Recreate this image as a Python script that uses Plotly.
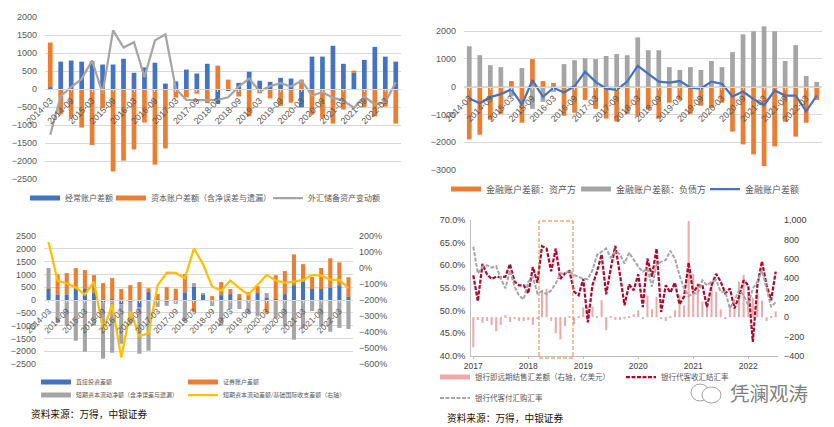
import plotly.graph_objects as go

W, H = 834, 427
TEXT = "#595959"
CJK = "Noto Sans CJK SC"
LATIN = "Liberation Sans"

# quarterly axis shared by three panels
quarters = [f"{y}-{m}" for y in range(2014, 2023) for m in ("03", "06", "09", "12")][:34]
quarter_ticks = quarters[::2]

# top left
current_acct = [40, 760, 790, 760, 770, 680, 680, 840, 450, 600, 730, 150, 210, 540, 430, 700,
                -410, -30, 170, 480, 230, 200, 310, 290, -510, 900, 900, 1200, 700, 450, 810, 1170, 900, 760]
capital_acct = [1250, -700, -800, -1070, -1560, -530, -2290, -1990, -1680, -930, -2100, -1650, -240, -230, -130, -390,
                650, 260, -210, -760, -120, -260, -470, -380, 260, -710, -800, -960, -570, 60, -500, -760, -490, -960]
reserve_chg = [-1270, -200, 50, 280, 790, -130, 1630, 1150, 1300, 330, 1350, 1520, 0, -300, -310, -310,
               -300, -230, 70, 290, -70, 80, 160, 70, 230, -180, -90, -240, -330, -520, -210, -430, -370, 190]

# top right
fin_assets = [-1900, -1730, -1190, -980, 200, -1300, 990, 200, 130, -1050, -940, -480, -800, -1150, -1260, -980,
              -1050, -830, -1150, -580, -480, -980, -690, -770, -580, -1620, -2080, -2440, -2860, -2150, -1260, -1800, -1300, -480]
fin_liabs = [1450, 1130, 770, 700, -350, 670, -800, -550, -190, 810, 950, 1020, 990, 1100, 1170, 1130,
             1770, 1310, 1310, 700, 600, 700, 600, 920, 700, 1240, 1880, 1990, 2170, 1990, 920, 1490, 380, 170]
fin_balance = [-430, -600, -380, -270, -100, -650, 230, -370, -40, -210, 20, 540, 170, -70, -120, 180,
               750, 480, 180, 140, 200, -40, -70, 180, 100, -360, -180, -450, -670, -140, -320, -320, -890, -320]

# bottom left
fdi = [430, 220, 220, 430, 430, 270, -100, 40, -170, -60, -300, 310, 10, -60, 10, 300,
       510, 200, 0, 190, 230, 40, -40, 270, 80, 40, 230, 580, 710, 430, 430, 470, 580, 120]
portfolio = [30, 780, 830, 815, 740, 700, 660, 815, 430, 580, 700, 150, 230, 500, 430, 710,
             -450, 0, 150, 510, 200, 190, 310, 270, -520, 930, 900, 1200, 690, 470, 820, 1160, 890, 770]
short_term = [790, -900, -1000, -1590, -2020, -1000, -2190, -2060, -1540, -900, -1800, -1980, -270, -170, -150, -840,
              150, 40, -230, -1000, -360, -350, -500, -640, 190, -710, -1040, -1550, -1100, -430, -1040, -1240, -1090, -1130]
short_ratio = [163, -80, -95, -122, -167, -85, -390, -229, -559, -270, -425, -408, -109, -29, -31, -64,
               122, 23, -115, -142, -78, -126, -167, -105, -43, -78, -93, -85, -74, -43, -48, -72, -74, -126]

# bottom right, monthly
months = [f"{y}-{m:02d}" for y in range(2017, 2023) for m in range(1, 13)][:67]
fx_spread = [-310, -30, -60, -40, -80, -145, -80, 20, -50, -10, -40, -40, -30, -80, -10, 280, 290, -40, -165, -230,
             -90, 10, -70, 5, 100, 100, 110, 10, 175, -135, 10, -30, -30, -20, 10, 30, 70, -10, 220, 80,
             210, -20, -40, 10, 70, 230, 120, 990, 445, 350, 160, 120, 330, 260, 80, -20, 120, 90, 365, 435,
             260, 200, 240, 170, -40, 10, 60]
settle_rate = [57.8, 52.1, 60.3, 58.0, 57.0, 57.5, 57.4, 57.5, 60.3, 56.4, 55.6, 55.6, 53.8, 59.6, 56.2, 64.2,
               63.7, 58.7, 63.7, 57.0, 58.2, 58.7, 54.2, 53.4, 57.0, 47.4, 55.6, 58.6, 62.4, 53.6, 59.3, 64.3,
               58.0, 51.2, 55.8, 54.5, 58.0, 50.8, 61.5, 57.5, 63.7, 49.7, 55.6, 54.0, 56.2, 51.4, 53.1, 60.6,
               53.8, 55.6, 55.6, 50.8, 55.6, 58.1, 56.4, 53.8, 54.9, 50.5, 53.1, 56.7, 55.6, 43.1, 55.6, 60.9,
               55.6, 52.3, 58.6]
purchase_rate = [64.1, 58.2, 59.7, 60.0, 59.5, 59.8, 57.1, 54.9, 58.9, 55.3, 53.3, 52.5, 56.4, 57.5, 53.8, 54.3,
                 53.6, 54.5, 56.0, 58.2, 58.2, 58.8, 57.8, 57.5, 57.0, 57.0, 58.9, 62.3, 63.0, 63.7, 61.7, 63.1,
                 62.4, 60.4, 62.8, 61.2, 59.7, 58.6, 59.3, 55.3, 60.1, 60.8, 61.2, 63.2, 61.5, 57.8, 54.9, 53.2,
                 53.8, 53.8, 56.7, 55.6, 56.4, 56.7, 54.2, 54.2, 50.5, 52.3, 54.5, 53.4, 51.2, 54.9, 56.4, 58.9,
                 54.9, 50.8, 51.9]
year_ticks = months[::12]
year_labels = ["2017", "2018", "2019", "2020", "2021", "2022"]


def fx(px):
    return px / W


def fy(px):
    return 1 - px / H


fig = go.Figure()
layout = dict(
    width=W, height=H, margin=dict(l=0, r=0, t=0, b=0), autosize=False,
    paper_bgcolor="white", plot_bgcolor="white", barmode="relative", bargap=0.55,
    font=dict(family=f"{LATIN}, {CJK}", size=9, color=TEXT),
)


def quarter_panel(n, box, y_range, dtick):
    # x axis crosses at zero, like the Excel originals
    x0, x1, top, bottom = box
    zero = bottom - (0 - y_range[0]) / (y_range[1] - y_range[0]) * (bottom - top)
    layout[f"xaxis{n}"] = dict(
        domain=[fx(x0), fx(x1)], anchor="free", position=fy(zero), type="category", automargin=False,
        categoryorder="array", categoryarray=quarters, tickmode="array", tickvals=quarter_ticks,
        tickangle=-45, showgrid=False, showline=True, linecolor="#D9D9D9", ticks="outside",
        ticklen=2, tickcolor="#D9D9D9", tickfont=dict(size=9, color=TEXT),
    )
    layout[f"yaxis{n}"] = dict(
        domain=[fy(bottom), fy(top)], anchor=f"x{n}", range=y_range, tick0=y_range[0], dtick=dtick, showgrid=True,
        automargin=False, gridcolor="#D9D9D9", gridwidth=1, zeroline=False, tickfont=dict(size=9, color=TEXT),
        ticklabelstandoff=7,
    )


quarter_panel(1, (45, 401, 17, 179), [-2500, 2000], 500)
# the tallest bars in this panel run past the 2000 gridline
quarter_panel(2, (464, 822, 17.1, 170), [-3000, 2500], 1000)
quarter_panel(3, (44, 353, 236, 364), [-2500, 2500], 500)
layout["xaxis3"]["tickfont"] = dict(size=8.5, color=TEXT)
layout["yaxis5"] = dict(
    domain=[fy(364), fy(236)], anchor="x3", overlaying="y3", side="right", range=[-600, 200], dtick=100,
    ticksuffix="%", showgrid=False, zeroline=False, tickfont=dict(size=9, color=TEXT), ticklabelstandoff=5,
    automargin=False,
)

# bottom right: bars sit on the base axis so that the rates are drawn over them
layout["xaxis4"] = dict(
    domain=[fx(471), fx(778)], anchor="y4", type="category", categoryorder="array", categoryarray=months,
    tickmode="array", tickvals=year_ticks, ticktext=year_labels, showgrid=False, automargin=False,
    showline=True, linecolor="#BFBFBF", ticks="outside", ticklen=2, tickcolor="#BFBFBF",
    tickfont=dict(size=8.5, color="#404040"),
)
layout["yaxis4"] = dict(
    domain=[fy(356), fy(220)], anchor="x4", side="right", range=[-400, 1000], dtick=200, showgrid=False,
    zeroline=False, tickformat=",d", tickfont=dict(size=9, color="#404040"), ticklabelstandoff=5, automargin=False,
)
layout["yaxis6"] = dict(
    domain=[fy(356), fy(220)], anchor="x4", overlaying="y4", side="left", range=[40, 70], dtick=5,
    tickformat=".1f", ticksuffix="%", showgrid=False, zeroline=False, showline=True, linecolor="#BFBFBF",
    tickfont=dict(size=9, color="#404040"), ticklabelstandoff=3, automargin=False,
)

legend_count = 0


def legend_at(text_x, y, size):
    # one legend per entry, so each key can sit where the original has it
    global legend_count
    legend_count += 1
    name = "legend" if legend_count == 1 else f"legend{legend_count}"
    layout[name] = dict(
        x=fx(text_x - 41), y=fy(y), xanchor="left", yanchor="middle", bgcolor="rgba(0,0,0,0)",
        itemwidth=30, font=dict(family=CJK, size=size, color=TEXT), borderwidth=0,
        itemclick=False, itemdoubleclick=False,
    )
    return name


def add_bar(x, y, color, n, label, text_x, text_y, size, yaxis=None):
    fig.add_trace(go.Bar(x=x, y=y, marker_color=color, marker_line_width=0, showlegend=False,
                         xaxis=f"x{n}", yaxis=yaxis or f"y{n}", name=label))
    # bar keys in the original are long flat strips, a thick line key is the closest
    fig.add_trace(go.Scatter(x=[None], y=[None], mode="lines", name=label, line=dict(color=color, width=5),
                             xaxis=f"x{n}", yaxis=yaxis or f"y{n}", legend=legend_at(text_x, text_y, size)))


def add_line(x, y, color, width, n, label, text_x, text_y, size, yaxis=None, dash="solid"):
    fig.add_trace(go.Scatter(x=x, y=y, mode="lines", name=label, line=dict(color=color, width=width, dash=dash),
                             xaxis=f"x{n}", yaxis=yaxis or f"y{n}", legend=legend_at(text_x, text_y, size)))


BLUE, ORANGE, GRAY, YELLOW = "#4472C4", "#ED7D31", "#A5A5A5", "#FFC000"

add_bar(quarters, current_acct, BLUE, 1, "经常账户差额", 66, 198, 8)
add_bar(quarters, capital_acct, ORANGE, 1, "资本账户差额（含净误差与遗漏）", 152, 198, 8)
add_line(quarters, reserve_chg, GRAY, 2.25, 1, "外汇储备资产变动额", 309, 198, 8)

add_bar(quarters, fin_assets, ORANGE, 2, "金融账户差额：资产方", 487, 189, 9)
add_bar(quarters, fin_liabs, GRAY, 2, "金融账户差额：负债方", 617, 189, 9)
add_line(quarters, fin_balance, BLUE, 2.25, 2, "金融账户差额", 746, 189, 9)

add_bar(quarters, fdi, BLUE, 3, "直接投资差额", 77, 382, 6)
add_bar(quarters, portfolio, ORANGE, 3, "证券账户差额", 224, 382, 6)
add_bar(quarters, short_term, GRAY, 3, "短期资本流动净额（含净误差与遗漏）", 77, 395, 6)
add_line(quarters, short_ratio, YELLOW, 2.25, 3, "短期资本流动差额/基础国际收支差额（右轴）", 224, 395, 6, yaxis="y5")

add_bar(months, fx_spread, "#E9ABAB", 4, "银行即远期结售汇差额（右轴，亿美元）", 476, 377, 7.5)
add_line(months, settle_rate, "#AE0A2E", 2.25, 4, "银行代客收汇结汇率", 662, 377, 7.5, yaxis="y6", dash="4px,1.5px")
add_line(months, purchase_rate, "#A6A6A6", 2, 4, "银行代客付汇购汇率", 476, 398, 7.5, yaxis="y6", dash="4px,1.5px")

# highlighted 2018 stretch
layout["shapes"] = [
    dict(type="rect", xref="paper", yref="paper", x0=fx(539), x1=fx(573), y0=fy(358), y1=fy(221),
         line=dict(color="#ED7D31", width=1, dash="4px,2px"), fillcolor="rgba(0,0,0,0)"),
    # wechat mark next to the account name
    dict(type="circle", xref="paper", yref="paper", x0=fx(691), x1=fx(709), y0=fy(401), y1=fy(384),
         line=dict(color="#8C8C8C", width=0.8)),
    dict(type="circle", xref="paper", yref="paper", x0=fx(702), x1=fx(721), y0=fy(403), y1=fy(387),
         line=dict(color="#8C8C8C", width=0.8), fillcolor="white"),
]
layout["annotations"] = [
    dict(text="资料来源：万得，中银证券", xref="paper", yref="paper", x=fx(29), y=fy(414), xanchor="left",
         yanchor="middle", showarrow=False, font=dict(family=CJK, size=9.7, color="#111111")),
    dict(text="资料来源：万得，中银证券", xref="paper", yref="paper", x=fx(445), y=fy(418), xanchor="left",
         yanchor="middle", showarrow=False, font=dict(family=CJK, size=9.7, color="#111111")),
    dict(text="凭澜观涛", xref="paper", yref="paper", x=fx(728), y=fy(392), xanchor="left", yanchor="middle",
         showarrow=False, font=dict(family=CJK, size=19.5, color="#7F7F7F")),
]

fig.update_layout(**layout)
# the default body margin would push the whole figure 8px off the window
fig.write_html("out.html", config=dict(displayModeBar=False),
               post_script="document.body.style.margin = '0';")
